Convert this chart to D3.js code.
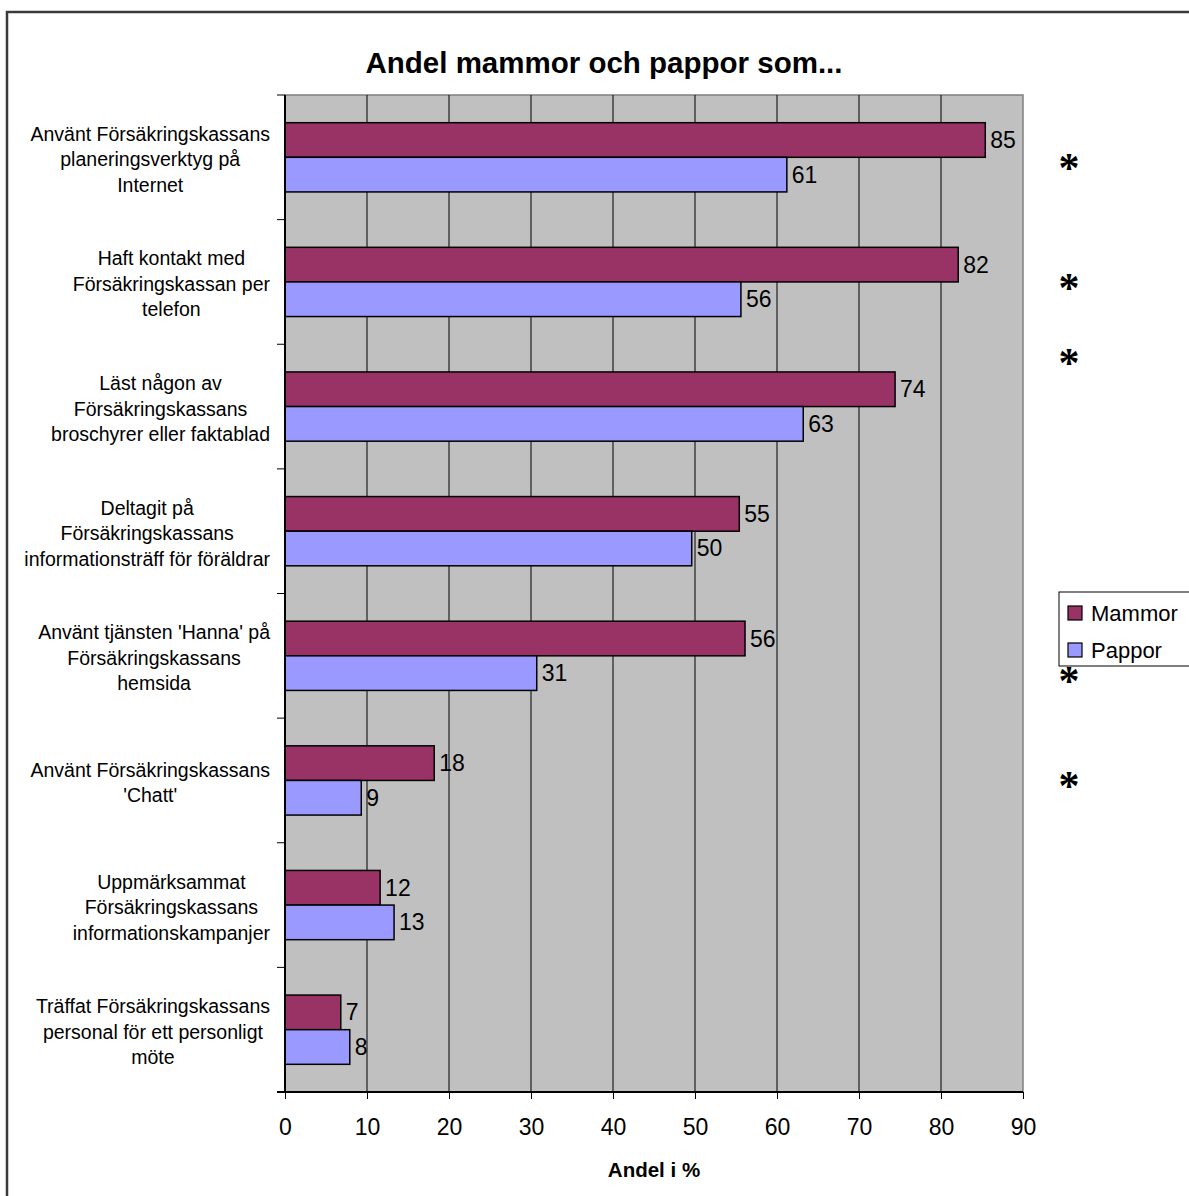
<!DOCTYPE html>
<html lang="sv">
<head>
<meta charset="UTF-8">
<script src="https://d3js.org/d3.v7.min.js"></script>
<title>Andel mammor och pappor som...</title>
<style>
  body { margin: 0; background: white; font-family: Arial, "Liberation Sans", sans-serif; }
  svg { display: block; }
</style>
</head>
<body>
<svg id="chart" width="1189" height="1196"></svg>
<script>
// data
const categories = [
  ["Använt Försäkringskassans", "planeringsverktyg på", "Internet"],
  ["Haft kontakt med", "Försäkringskassan per", "telefon"],
  ["Läst någon av", "Försäkringskassans", "broschyrer eller faktablad"],
  ["Deltagit på", "Försäkringskassans", "informationsträff för föräldrar"],
  ["Använt tjänsten 'Hanna' på", "Försäkringskassans", "hemsida"],
  ["Använt Försäkringskassans", "'Chatt'"],
  ["Uppmärksammat", "Försäkringskassans", "informationskampanjer"],
  ["Träffat Försäkringskassans", "personal för ett personligt", "möte"]
];
const mammor = [85.4, 82.1, 74.4, 55.4, 56.1, 18.2, 11.6, 6.8];
const pappor = [61.2, 55.6, 63.2, 49.6, 30.7, 9.3, 13.3, 7.9];
const seriesNames = ["Mammor", "Pappor"];
const seriesColors = ["#993366", "#9999FF"];
const xTicks = [0, 10, 20, 30, 40, 50, 60, 70, 80, 90];
// rows (in category steps from the top) that carry a significance star
const starPositions = [0.54, 1.5, 2.1, 4.65, 5.5];

const svg = d3.select("#chart");
const plotL = 285, plotR = 1023, plotT = 95, plotB = 1092;

const x = d3.scaleLinear().domain([0, 90]).range([plotL, plotR]);
const y = d3.scaleBand().domain(d3.range(categories.length)).range([plotT, plotB]).padding(0);
const barH = y.bandwidth() / 3.6;          // gap width 160%
const groupOff = (y.bandwidth() - 2 * barH) / 2;

// outer frame
svg.append("rect")
  .attr("x", 7).attr("y", 12).attr("width", 1200).attr("height", 1200)
  .attr("fill", "none").attr("stroke", "#3a3a3a").attr("stroke-width", 2.5);

// title
svg.append("text")
  .attr("x", 604).attr("y", 73)
  .attr("text-anchor", "middle")
  .style("font-size", "29.5px").style("font-weight", "bold")
  .text("Andel mammor och pappor som...");

// plot area
svg.append("rect")
  .attr("x", plotL).attr("y", plotT).attr("width", plotR - plotL).attr("height", plotB - plotT)
  .attr("fill", "#C0C0C0").attr("stroke", "#808080").attr("stroke-width", 1.5);

// gridlines
svg.append("g").selectAll("line")
  .data(xTicks.slice(1, -1))
  .join("line")
  .attr("x1", d => x(d)).attr("x2", d => x(d))
  .attr("y1", plotT).attr("y2", plotB)
  .attr("stroke", "#000").attr("stroke-width", 1);

// bars
const series = [mammor, pappor];
series.forEach((vals, s) => {
  const g = svg.append("g");
  g.selectAll("rect")
    .data(vals)
    .join("rect")
    .attr("x", x(0))
    .attr("y", (d, i) => y(i) + groupOff + s * barH)
    .attr("width", d => x(d) - x(0))
    .attr("height", barH)
    .attr("fill", seriesColors[s])
    .attr("stroke", "#000").attr("stroke-width", 1.5);
  g.selectAll("text")
    .data(vals)
    .join("text")
    .attr("x", d => x(d) + 5)
    .attr("y", (d, i) => y(i) + groupOff + s * barH + barH / 2 + 8)
    .style("font-size", "23px")
    .text(d => Math.round(d));
});

// x axis
const xAxis = svg.append("g")
  .attr("transform", `translate(0,${plotB})`)
  .call(d3.axisBottom(x).tickValues(xTicks).tickSize(7).tickPadding(20).tickSizeOuter(0));
xAxis.select(".domain").attr("stroke", "#000").attr("stroke-width", 2).attr("d", `M${plotL - 8},0H${plotR}`);
xAxis.selectAll(".tick line").attr("stroke", "#000");
xAxis.selectAll(".tick text")
  .style("font-size", "23px").style("font-family", "Arial, 'Liberation Sans', sans-serif")
  .attr("fill", "#000");

// y axis (category boundaries)
const yAxis = svg.append("g");
yAxis.append("line")
  .attr("x1", plotL).attr("x2", plotL).attr("y1", plotT).attr("y2", plotB)
  .attr("stroke", "#000").attr("stroke-width", 2);
yAxis.selectAll(".bt")
  .data(d3.range(categories.length + 1))
  .join("line")
  .attr("class", "bt")
  .attr("x1", plotL - 8).attr("x2", plotL)
  .attr("y1", i => plotT + i * y.step()).attr("y2", i => plotT + i * y.step())
  .attr("stroke", "#000").attr("stroke-width", 1);

// category labels: block right-aligned, lines centred
const lineH = 25.5;
categories.forEach((lines, i) => {
  const g = svg.append("g");
  const cy = y(i) + y.bandwidth() / 2;
  const texts = g.selectAll("text")
    .data(lines)
    .join("text")
    .style("font-size", "19.5px")
    .attr("text-anchor", "middle")
    .attr("y", (d, k) => cy + (k - (lines.length - 1) / 2) * lineH + 9)
    .text(d => d);
  let maxW = 0;
  texts.each(function () { maxW = Math.max(maxW, this.getComputedTextLength()); });
  texts.attr("x", 270 - maxW / 2);
});

// axis title
svg.append("text")
  .attr("x", (plotL + plotR) / 2).attr("y", 1177)
  .attr("text-anchor", "middle")
  .style("font-size", "20.5px").style("font-weight", "bold")
  .text("Andel i %");

// significance stars
svg.append("g").selectAll("text")
  .data(starPositions)
  .join("text")
  .attr("x", 1069)
  .attr("y", d => plotT + d * y.step() + 20)
  .attr("text-anchor", "middle")
  .style("font-family", "'Liberation Serif', 'Times New Roman', serif")
  .style("font-size", "42px")
  .style("font-weight", "bold")
  .text("*");

// legend
const legend = svg.append("g");
legend.append("rect")
  .attr("x", 1059).attr("y", 592).attr("width", 200).attr("height", 74)
  .attr("fill", "#fff").attr("stroke", "#000").attr("stroke-width", 1);
seriesNames.forEach((name, s) => {
  const cy = 613 + s * 37;
  legend.append("rect")
    .attr("x", 1068).attr("y", cy - 7).attr("width", 14).attr("height", 14)
    .attr("fill", seriesColors[s]).attr("stroke", "#000").attr("stroke-width", 1.2);
  legend.append("text")
    .attr("x", 1091).attr("y", cy + 8)
    .style("font-size", "22px")
    .text(name);
});
</script>
</body>
</html>
